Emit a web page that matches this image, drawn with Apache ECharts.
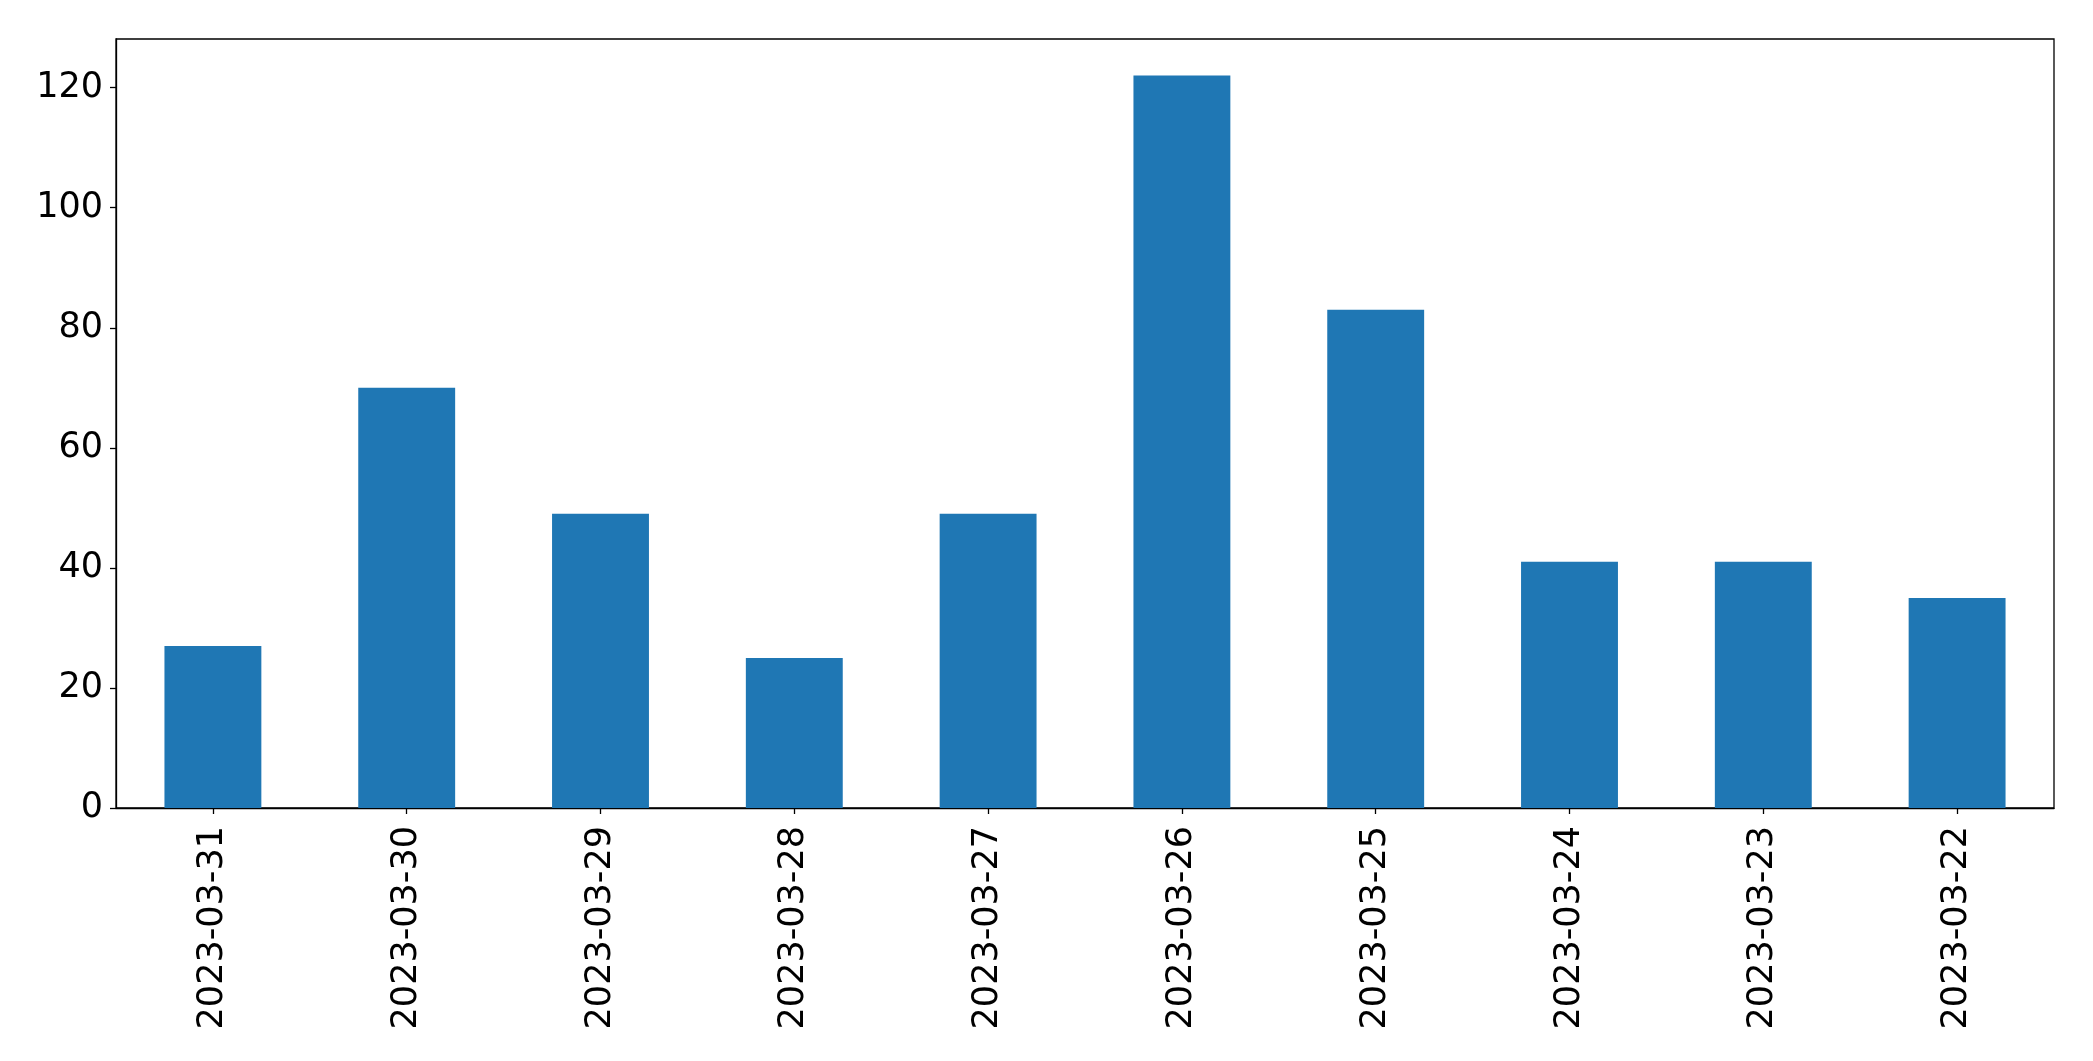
<!DOCTYPE html>
<html>
<head>
<meta charset="utf-8">
<script src="https://cdn.jsdelivr.net/npm/echarts@6/dist/echarts.min.js"></script>
<style>
html,body{margin:0;padding:0;background:#fff;}
#chart{width:2093px;height:1061px;}
</style>
</head>
<body>
<div id="chart"></div>
<script>
const categories = ['2023-03-31','2023-03-30','2023-03-29','2023-03-28','2023-03-27','2023-03-26','2023-03-25','2023-03-24','2023-03-23','2023-03-22'];
const counts = [27, 70, 49, 25, 49, 122, 83, 41, 41, 35];
const yTicks = [0, 20, 40, 60, 80, 100, 120];

const chart = echarts.init(document.getElementById('chart'), null, {renderer: 'canvas'});
const font = 'DejaVu Sans';
const yMax = Math.max.apply(null, counts) * 1.05;
chart.setOption({
  animation: false,
  backgroundColor: '#ffffff',
  grid: {
    left: 116, right: 39, top: 39, bottom: 253,
    show: true, borderColor: '#000', borderWidth: 1.3, backgroundColor: 'transparent'
  },
  xAxis: {
    type: 'category',
    data: categories,
    boundaryGap: true,
    axisLine: {show: true, lineStyle: {color: '#000', width: 1.3}},
    axisTick: {show: true, alignWithLabel: true, length: 6, lineStyle: {color: '#000', width: 1.3}},
    axisLabel: {rotate: 90, margin: 18, fontSize: 35, color: '#000', fontFamily: font, interval: 0},
    splitLine: {show: false}
  },
  yAxis: {
    type: 'value',
    min: 0,
    max: yMax,
    interval: 20,
    axisLine: {show: true, lineStyle: {color: '#000', width: 1.3}},
    axisTick: {show: true, length: 6, lineStyle: {color: '#000', width: 1.3}},
    axisLabel: {
      margin: 13, fontSize: 35, color: '#000', fontFamily: font,
      showMaxLabel: false,
      formatter: function (v) { return yTicks.indexOf(v) >= 0 ? String(v) : ''; }
    },
    splitLine: {show: false}
  },
  series: [{
    type: 'bar',
    data: counts,
    barWidth: '50%',
    itemStyle: {color: '#1f77b4'}
  }]
});
</script>
</body>
</html>
